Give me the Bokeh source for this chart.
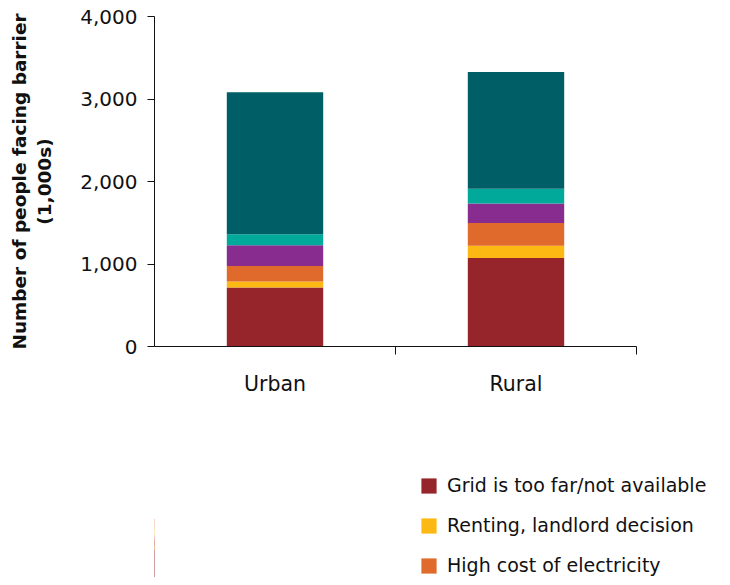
from bokeh.plotting import figure
from bokeh.layouts import column
from bokeh.models import Range1d, FixedTicker, NumeralTickFormatter, Legend, LegendItem
from bokeh.embed import file_html
from bokeh.resources import INLINE

# ---- data ----
categories = ["Urban", "Rural"]
grid_far = [716, 1073]
renting = [73, 147]
high_cost = [187, 276]
barrier_4 = [252, 236]
barrier_5 = [134, 179]
barrier_6 = [1720, 1415]
legend_labels = ["Grid is too far/not available",
                 "Renting, landlord decision",
                 "High cost of electricity"]
y_ticks = [0, 1000, 2000, 3000, 4000]

series = [grid_far, renting, high_cost, barrier_4, barrier_5, barrier_6]
colors = ["#96252B", "#FDB913", "#E06A2B", "#882D8F", "#00A99A", "#005F66"]
FONT = "DejaVu Sans"
TEXT = "#111111"

# ---- layout (pixels) ----
W, H = 722, 577
LEFT, AXIS_RIGHT, TOP, BOTTOM = 154, 636, 16, 346
H_TOP = 420
H_LEG = H - H_TOP
LEG_X = 419

n = len(categories)
x_max = n * (W - LEFT) / (AXIS_RIGHT - LEFT)   # frame runs to the page edge, axis stops at AXIS_RIGHT

x_pos = [i + 0.5 for i in range(n)]
data = {"x": x_pos}
keys = []
for i, s in enumerate(series):
    k = f"s{i}"
    keys.append(k)
    data[k] = s

p = figure(width=W, height=H_TOP,
           x_range=Range1d(0, x_max), y_range=Range1d(0, y_ticks[-1]),
           output_backend="svg", toolbar_location=None,
           min_border_left=LEFT, min_border_right=0,
           min_border_top=TOP, min_border_bottom=H_TOP - BOTTOM)
p.outline_line_color = None
p.grid.visible = False
p.background_fill_color = "white"
p.border_fill_color = "white"

renderers = p.vbar_stack(keys, x="x", width=0.4, source=data,
                         color=colors, line_color=None)

# x axis
xa = p.xaxis[0]
xa.bounds = (0, n)
xa.ticker = FixedTicker(ticks=x_pos, minor_ticks=[i + 1 for i in range(n)])
xa.major_label_overrides = {x: c for x, c in zip(x_pos, categories)}
xa.major_tick_out = 0
xa.major_tick_in = 0
xa.minor_tick_out = 8
xa.minor_tick_in = 0
xa.major_label_standoff = 17
xa.major_label_text_font = FONT
xa.major_label_text_font_size = "20.5px"
xa.major_label_text_color = TEXT
xa.axis_line_color = "#111111"
xa.minor_tick_line_color = "#111111"

# y axis
ya = p.yaxis[0]
ya.ticker = FixedTicker(ticks=y_ticks)
ya.formatter = NumeralTickFormatter(format="0,0")
ya.major_tick_out = 7
ya.major_tick_in = 0
ya.minor_tick_line_color = None
ya.major_label_standoff = 10
ya.major_label_text_font = FONT
ya.major_label_text_font_size = "20px"
ya.major_label_text_color = TEXT
ya.axis_line_color = "#111111"
ya.major_tick_line_color = "#111111"
ya.axis_label = "Number of people facing barrier\n(1,000s)"
ya.axis_label_text_font = FONT
ya.axis_label_text_font_style = "bold"
ya.axis_label_text_font_size = "18.5px"
ya.axis_label_text_color = TEXT
ya.axis_label_standoff = 22

# ---- legend panel below the chart ----
# the legend's own bars use the same data but sit far outside this panel's view
OFF = 100
p2 = figure(width=W, height=H_LEG, x_range=Range1d(OFF, OFF + x_max), y_range=Range1d(0, y_ticks[-1]),
            x_axis_type=None, y_axis_type=None,
            output_backend="svg", toolbar_location=None,
            min_border_left=0, min_border_right=0, min_border_top=0, min_border_bottom=0)
p2.outline_line_color = None
p2.grid.visible = False
p2.border_fill_color = "white"
leg_renderers = p2.vbar_stack(keys[:len(legend_labels)], x="x", width=0.4, source=data,
                              color=colors[:len(legend_labels)], line_color=None)

legend = Legend(
    items=[LegendItem(label=lab, renderers=[r]) for lab, r in zip(legend_labels, leg_renderers)],
    location=(LEG_X - LEFT, 1),
    glyph_width=19, glyph_height=19, label_standoff=9, spacing=18,
    padding=0, margin=0, border_line_color=None, background_fill_alpha=0,
    label_text_font=FONT, label_text_font_size="19px", label_text_color=TEXT,
    label_height=22,
)
p2.add_layout(legend, "center")

layout = column(p, p2, spacing=0)
open("out.html", "w").write(file_html(layout, INLINE))
